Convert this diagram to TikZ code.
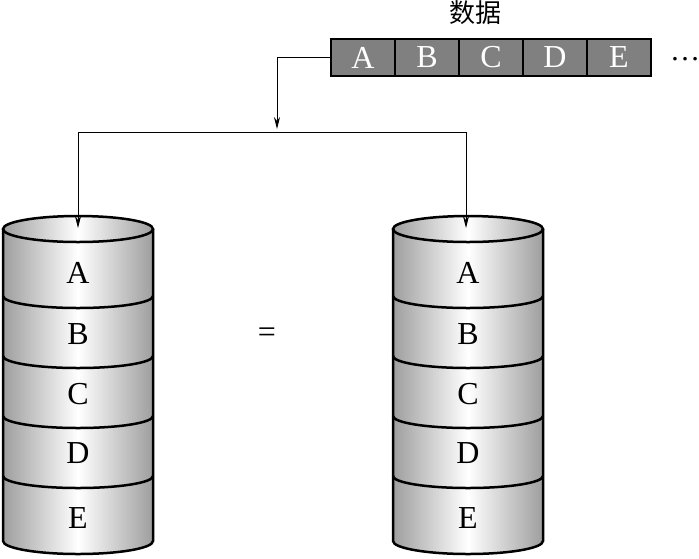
\documentclass[tikz,border=0pt]{standalone}
\usepackage{fontspec}
\setmainfont{Liberation Serif}
\newfontfamily\cjk{Noto Sans CJK SC}
\usetikzlibrary{arrows.meta,calc}
\tikzset{
  cell/.style={draw=black,line width=2.5pt,fill=black!50,text=white,minimum width=64pt,minimum height=37pt,inner sep=0pt,font=\fontsize{32}{34}\selectfont},
  lbl/.style={inner sep=0pt,font=\fontsize{32}{34}\selectfont},
  conn/.style={line width=0.9pt,-{Stealth[length=12pt,width=6pt,inset=4pt]}},
  plain/.style={line width=0.9pt},
  body/.style={left color=black!38,right color=black!38,middle color=white},
  rim/.style={line width=2.5pt}
}
\newcommand{\cyl}[2]{% #1 center x, #2 name prefix
  \shade[body] (#1-75,229) -- (#1-75,541) arc[start angle=180,end angle=360,x radius=75,y radius=-13] -- (#1+75,229) -- cycle;
  \shade[body] (#1,229) ellipse[x radius=75,y radius=13];
  \draw[rim] (#1,229) ellipse[x radius=75,y radius=13];
  \foreach \yy in {296,356,416,476}{
    \draw[rim] (#1-75,\yy) arc[start angle=180,end angle=360,x radius=75,y radius=-12];
  }
  \draw[rim] (#1-75,229) -- (#1-75,541) arc[start angle=180,end angle=360,x radius=75,y radius=-13] -- (#1+75,229);
  \node[lbl] (#2A) at (#1,273) {A};
  \node[lbl] (#2B) at (#1,334) {B};
  \node[lbl] (#2C) at (#1,394) {C};
  \node[lbl] (#2D) at (#1,453) {D};
  \node[lbl] (#2E) at (#1,518) {E};
  \coordinate (#2top) at (#1,228);
}
\begin{document}
\begin{tikzpicture}[x=1pt,y=-1pt]
\useasboundingbox (0,0) rectangle (699,558);
% data bar
\node[cell] (dA) at (363,57.5) {A};
\node[cell] (dB) at (427,57.5) {B};
\node[cell] (dC) at (491,57.5) {C};
\node[cell] (dD) at (555,57.5) {D};
\node[cell] (dE) at (619,57.5) {E};
\node[inner sep=0pt,font=\cjk\fontsize{26}{28}\selectfont] (title) at (475,13) {数据};
\node[inner sep=0pt,anchor=base,font=\fontsize{30}{32}\selectfont] (dots) at (685,60) {…};
% cylinders
\cyl{78}{L}
\cyl{468}{R}
\node[lbl] (eq) at (267,335) {=};
% connectors
\coordinate (split) at (277,131);
\coordinate (hl) at (78,132);
\coordinate (hr) at (466,132);
\draw[conn] (dA.west) -| ($(split)+(0,-2)$);
\draw[plain] (hl) -- (hr);
\draw[conn] (hl) -- (Ltop);
\draw[conn] (hr) -- (Rtop -| hr);
\end{tikzpicture}
\end{document}
